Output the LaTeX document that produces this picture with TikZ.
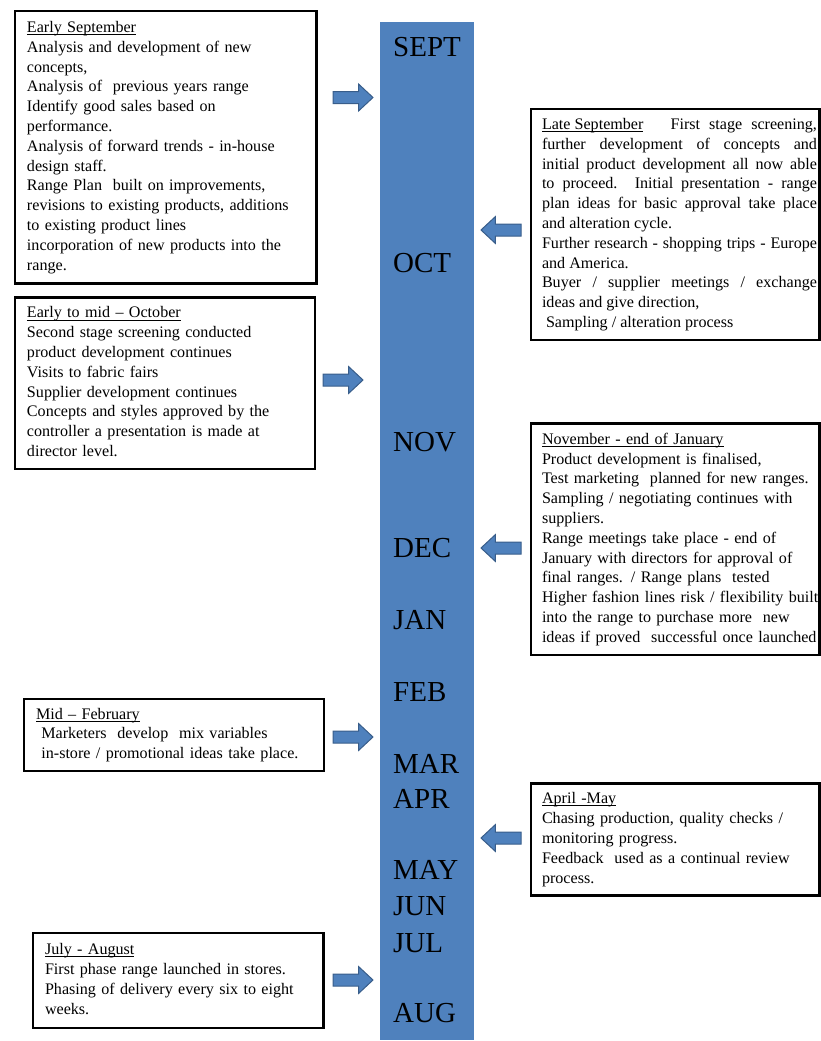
\documentclass[tikz,border=0pt]{standalone}
\usepackage{fontspec}
\setmainfont{Liberation Serif}
\usetikzlibrary{shapes.arrows}

\definecolor{barblue}{HTML}{4F81BD}
\definecolor{arrowedge}{HTML}{385D8A}

% heading underline placed just below the baseline
\newsavebox{\headbox}
\newcommand{\headline}[1]{\sbox{\headbox}{#1}%
  \leavevmode\rlap{\rule[-2.4pt]{\wd\headbox}{0.8pt}}\usebox{\headbox}}

\tikzset{
  frame/.style={draw=black, line width=2.8pt, inner sep=0pt, outer sep=0pt,
    anchor=north west},
  txt/.style={inner sep=0pt, outer sep=0pt, anchor=west,
    font=\fontsize{16.1}{19.8}\selectfont},
  month/.style={inner sep=0pt, anchor=base west,
    font=\fontsize{29}{34}\selectfont},
  blk/.style={single arrow, draw=arrowedge, fill=barblue, line width=1pt,
    minimum height=40pt, minimum width=26pt, single arrow head extend=7.5pt,
    single arrow tip angle=86, inner xsep=0pt, inner ysep=5.5pt,
    outer sep=0pt, text height=0pt, text depth=0pt, anchor=tip},
  rightblk/.style={blk},
  leftblk/.style={blk, shape border rotate=180}
}

\begin{document}
\begin{tikzpicture}[x=1pt, y=-1pt]
\useasboundingbox (0,0) rectangle (821,1041);

% timeline bar
\node[fill=barblue, inner sep=0pt, outer sep=0pt, anchor=north west,
      minimum width=94pt, minimum height=1018pt] (bar) at (380,22) {};

% month labels
\node[month] (sept) at (393,57)   {SEPT};
\node[month] (oct)  at (393,272)  {OCT};
\node[month] (nov)  at (393,451)  {NOV};
\node[month] (dec)  at (393,557)  {DEC};
\node[month] (jan)  at (393,629)  {JAN};
\node[month] (feb)  at (393,701)  {FEB};
\node[month] (mar)  at (393,773)  {MAR};
\node[month] (apr)  at (393,808)  {APR};
\node[month] (may)  at (393,879)  {MAY};
\node[month] (jun)  at (393,915)  {JUN};
\node[month] (jul)  at (393,952)  {JUL};
\node[month] (aug)  at (393,1022) {AUG};

% Early September
\node[frame, minimum width=301.5pt, minimum height=272.5pt] (b1) at (15,11) {};
\node[txt, align=left, text width=285pt, xshift=12pt] (t1) at (b1.west) {%
\strut\headline{Early September}\\
Analysis and development of new\\
concepts,\\
Analysis of~ previous years range\\
Identify good sales based on\\
performance.\\
Analysis of forward trends - in-house\\
design staff.\\
Range Plan~ built on improvements,\\
revisions to existing products, additions\\
to existing product lines\\
incorporation of new products into the\\
range.\strut};

% Late September
\node[frame, minimum width=288.5pt, minimum height=231pt] (b2) at (531,109) {};
\node[txt, align=justify, text width=275pt, xshift=11pt] (t2) at (b2.west) {%
\strut\headline{Late September}~~ First stage screening,\linebreak
further development of concepts and\linebreak
initial product development all now able\linebreak
to proceed. Initial presentation - range\linebreak
plan ideas for basic approval take place\linebreak
and alteration cycle.\par
Further research - shopping trips - Europe\linebreak
and America.\par
Buyer / supplier meetings / exchange\linebreak
ideas and give direction,\par
~Sampling / alteration process\strut};

% Early to mid October
\node[frame, minimum width=300pt, minimum height=171.5pt] (b3) at (15,297.5) {};
\node[txt, align=left, text width=285pt, xshift=12pt] (t3) at (b3.west) {%
\strut\headline{Early to mid – October}\\
Second stage screening conducted\\
product development continues\\
Visits to fabric fairs\\
Supplier development continues\\
Concepts and styles approved by the\\
controller a presentation is made at\\
director level.\strut};

% November to end of January
\node[frame, minimum width=288.5pt, minimum height=231.5pt] (b4) at (531,423.5) {};
\node[txt, align=left, text width=300pt, xshift=11pt] (t4) at (b4.west) {%
\strut\headline{November - end of January}\\
Product development is finalised,\\
Test marketing~ planned for new ranges.\\
Sampling / negotiating continues with\\
suppliers.\\
Range meetings take place - end of\\
January with directors for approval of\\
final ranges. / Range plans~ tested\\
Higher fashion lines risk / flexibility built\\
into the range to purchase more~ new\\
ideas if proved~ successful once launched\strut};

% Mid February
\node[frame, minimum width=300pt, minimum height=72pt] (b5) at (24,699) {};
\node[txt, align=left, text width=285pt, xshift=12pt] (t5) at (b5.west) {%
\strut\headline{Mid – February}\\
~Marketers~ develop~ mix variables\\
~in-store / promotional ideas take place.\strut};

% April to May
\node[frame, minimum width=288.5pt, minimum height=112pt] (b6) at (531,783.5) {};
\node[txt, align=left, text width=285pt, xshift=11pt] (t6) at (b6.west) {%
\strut\headline{April -May}\\
Chasing production, quality checks /\\
monitoring progress.\\
Feedback~ used as a continual review\\
process.\strut};

% July to August
\node[frame, minimum width=290.5pt, minimum height=95pt] (b7) at (33,933) {};
\node[txt, align=left, text width=285pt, xshift=12pt] (t7) at (b7.west) {%
\strut\headline{July - August}\\
First phase range launched in stores.\\
Phasing of delivery every six to eight\\
weeks.\strut};

% block arrows pointing at the bar (placed by their tips)
\node[rightblk] (a1) at (373,97.5) {};
\node[leftblk]  (a2) at (481,230)  {};
\node[rightblk] (a3) at (363,380)  {};
\node[leftblk]  (a4) at (481,548)  {};
\node[rightblk] (a5) at (373,737)  {};
\node[leftblk]  (a6) at (481,838)  {};
\node[rightblk] (a7) at (373,980)  {};
\end{tikzpicture}
\end{document}
